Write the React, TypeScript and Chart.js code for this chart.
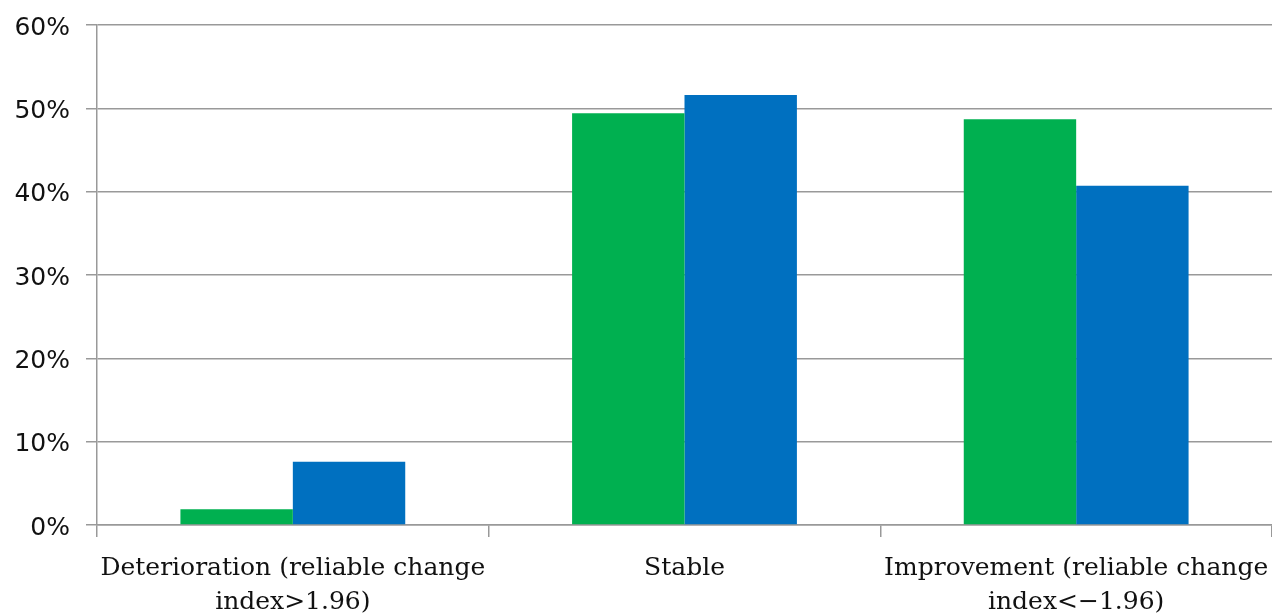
import React, { useEffect, useRef } from "react";
import { Chart, registerables } from "chart.js";

Chart.register(...registerables);

const categories: string[][] = [
  ["Deterioration (reliable change", "index>1.96)"],
  ["Stable"],
  ["Improvement (reliable change", "index<\u22121.96)"],
];
const greenValues = [1.9, 49.4, 48.7];
const blueValues = [7.6, 51.6, 40.7];
const yTicks = [0, 10, 20, 30, 40, 50, 60];

export default function App() {
  const ref = useRef<HTMLCanvasElement>(null);
  useEffect(() => {
    if (!ref.current) return;
    const chart = new Chart(ref.current, {
      type: "bar",
      data: {
        labels: categories,
        datasets: [
          { label: "Series 1", data: greenValues, backgroundColor: "#00B050", borderWidth: 0 },
          { label: "Series 2", data: blueValues, backgroundColor: "#0070C0", borderWidth: 0 },
        ],
      },
      options: {
        responsive: false,
        animation: false,
        layout: { padding: { top: 25, right: 0, left: 0, bottom: 0 } },
        plugins: { legend: { display: false }, tooltip: { enabled: false } },
        datasets: { bar: { categoryPercentage: 0.574, barPercentage: 1 } },
        scales: {
          x: {
            grid: { offset: true, drawOnChartArea: false, drawTicks: true, tickLength: 12, color: "#999", lineWidth: 1.5 },
            border: { display: true, color: "#999", width: 1.5 },
            ticks: {
              font: { family: "DejaVu Serif", size: 25, lineHeight: 1.36 },
              color: "#111",
              padding: 14,
              maxRotation: 0,
              autoSkip: false,
            },
            afterFit: (s: any) => {
              s.height = 90;
              s.paddingLeft = 0;
              s.paddingRight = 0;
            },
          },
          y: {
            min: 0,
            max: 60,
            afterBuildTicks: (s: any) => {
              s.ticks = yTicks.map((v) => ({ value: v }));
            },
            grid: { color: "#999", lineWidth: 1.5, tickLength: 11 },
            border: { display: true, color: "#999", width: 1.5 },
            ticks: {
              font: { family: "DejaVu Sans", size: 25 },
              color: "#111",
              padding: 16,
              labelOffset: 3,
              callback: (v: any) => v + "%",
            },
            afterFit: (s: any) => {
              s.width = 97;
              s.paddingTop = 0;
              s.paddingBottom = 0;
            },
          },
        },
      },
    });
    return () => chart.destroy();
  }, []);
  return (
    <div style={{ position: "absolute", left: 0, top: 0, width: 1272, height: 615, background: "#fff" }}>
      <canvas ref={ref} width={1272} height={615} />
    </div>
  );
}
